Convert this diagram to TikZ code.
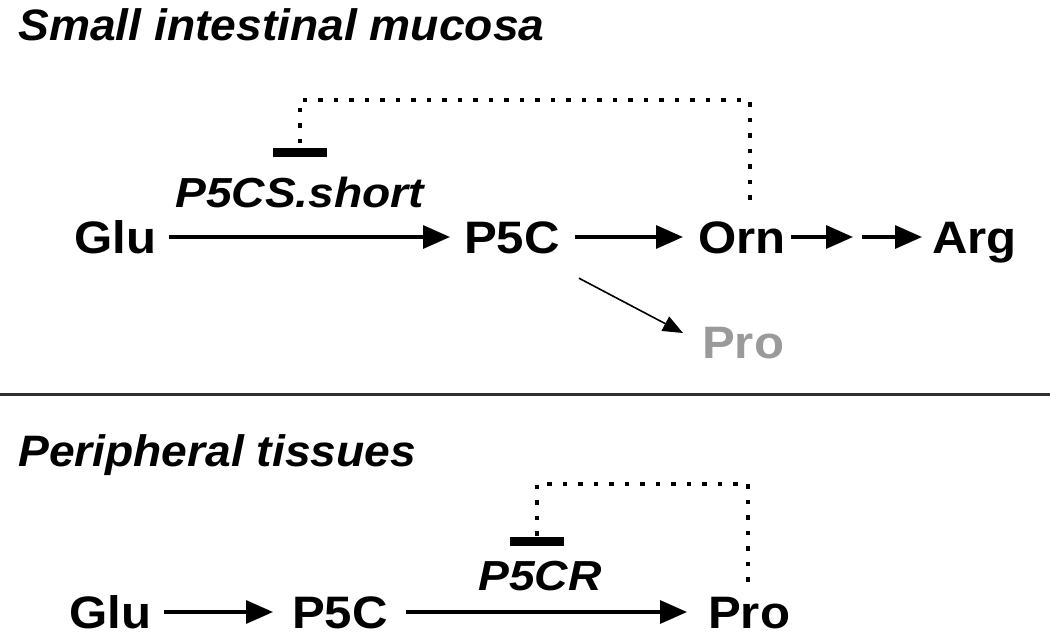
\documentclass[tikz,border=0pt]{standalone}
\usepackage{fontspec}
\setmainfont{Liberation Sans}
\newfontfamily\labfont{Liberation Sans}[FakeStretch=1.08]
\newfontfamily\ttlfont{Liberation Sans}[FakeStretch=1.05]
\newfontfamily\enzfont{Liberation Sans}[FakeStretch=1.1]
\usetikzlibrary{arrows.meta}
\definecolor{progray}{HTML}{9A9A9A}
\definecolor{sepgray}{HTML}{303030}
\begin{document}
\begin{tikzpicture}[x=1pt,y=-1pt,
  lab/.style={inner sep=0pt, anchor=base west, text height=32pt, text depth=0pt,
    font=\labfont\bfseries\fontsize{45.5}{54}\selectfont},
  ttl/.style={inner sep=0pt, anchor=base west,
    font=\ttlfont\bfseries\itshape\fontsize{44}{52}\selectfont},
  enz/.style={inner sep=0pt, anchor=base west,
    font=\enzfont\bfseries\itshape\fontsize{42}{50}\selectfont},
  arr/.style={line width=3.3pt, -{Triangle[length=27pt,width=23pt]}},
  thinarr/.style={line width=1.6pt, -{Triangle[length=20pt,width=16pt]}},
  dots/.style={line width=4.5pt, dash pattern=on 4.5pt off 11pt},
  inhib/.style={fill=black, inner sep=0pt, minimum width=54pt, minimum height=9pt}
]
\useasboundingbox (0,0) rectangle (1050,643);

% ---- Small intestinal mucosa ----
\node[ttl] (t1) at (18,40) {Small intestinal mucosa};
\node[lab] (G1) at (74,253) {Glu};
\node[lab] (P1) at (464,253) {P5C};
\node[lab] (O1) at (698,253) {Orn};
\node[lab] (A1) at (932,253) {Arg};
\node[lab, text=progray] (R1) at (702,358) {Pro};
\node[enz] (E1) at (175,207) {P5CS.short};
\node[inhib] (B1) at (300,152) {};
\coordinate (m1) at (857.5,237);

\draw[arr, shorten <=13pt, shorten >=14pt] (G1.east) -- (P1.west);
\draw[arr, shorten <=15pt, shorten >=15pt] (P1.east) -- (O1.west);
\draw[arr, shorten <=5pt, shorten >=4.5pt] (O1.east) -- (m1);
\draw[arr, shorten <=4.5pt, shorten >=10pt] (m1) -- (A1.west);
\draw[thinarr] ([shift={(19,25)}]P1.south east) -- ([shift={(-19,-9)}]R1.west);
\draw[dots] ([shift={(8,-21)}]O1.north) -- ++(0,-100) -| (B1.north);

% ---- separator ----
\draw[sepgray, line width=3pt] (0,394) -- (1050,394);

% ---- Peripheral tissues ----
\node[ttl] (t2) at (18,466) {Peripheral tissues};
\node[lab] (G2) at (69,628) {Glu};
\node[lab] (P2) at (292,628) {P5C};
\node[lab] (R2) at (708,628) {Pro};
\node[enz] (E2) at (478,590) {P5CR};
\node[inhib] (B2) at (537,541) {};

\draw[arr, shorten <=13pt, shorten >=19pt] (G2.east) -- (P2.west);
\draw[arr, shorten <=18pt, shorten >=21pt] (P2.east) -- (R2.west);
\draw[dots] ([shift={(-1,-14)}]R2.north) -- ++(0,-98) -| (B2.north);
\end{tikzpicture}
\end{document}
